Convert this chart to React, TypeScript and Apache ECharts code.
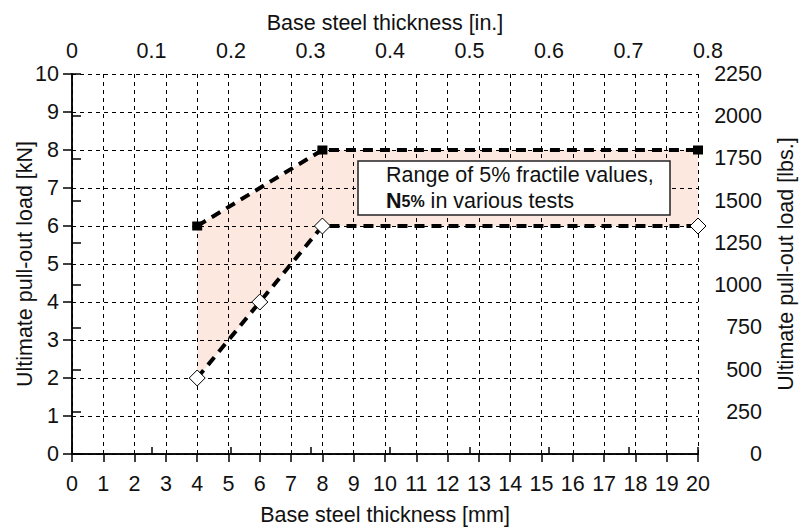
import React, { useEffect, useRef } from "react";
import * as echarts from "echarts";

// ---- data ----
const upperX = [4, 8, 20]; // mm
const upperY = [6, 8, 8]; // kN
const lowerX = [4, 6, 8, 20]; // mm
const lowerY = [2, 4, 6, 6]; // kN
const inchTicks = [0, 0.1, 0.2, 0.3, 0.4, 0.5, 0.6, 0.7];
const inchEnd = 20 / 25.4; // 20 mm in inches, labelled 0.8
const inchEndLabel = "0.8";
const noteLine1 = "Range of 5% fractile values,";
const noteLine2a = "N";
const noteLine2b = "5%";
const noteLine2c = " in various tests";

const FONT = "'Liberation Sans', Arial, Helvetica, sans-serif";
const FS = 21.5;
const INK = "#111";

export default function App() {
  const ref = useRef<HTMLDivElement>(null);
  useEffect(() => {
    document.body.style.margin = "0";
    const chart = echarts.init(ref.current!, null, { renderer: "svg" });
    const axisLine = { show: true, lineStyle: { color: "#000", width: 1.5 } };
    const tick = (len: number) => ({ show: true, inside: false, length: len, lineStyle: { color: "#000", width: 1.5 } });
    const lbl = { color: INK, fontSize: FS, fontFamily: FONT };
    const nameStyle = { color: INK, fontSize: FS, fontFamily: FONT };
    const upper = upperX.map((x, i) => [x, upperY[i]]);
    const lower = lowerX.map((x, i) => [x, lowerY[i]]);
    chart.setOption({
      animation: false,
      textStyle: { fontFamily: FONT },
      grid: { left: 72, right: 103, top: 74, bottom: 73, containLabel: false, outerBoundsMode: "none" },
      xAxis: [
        {
          type: "value",
          position: "bottom",
          min: 0,
          max: 20,
          interval: 1,
          axisLine,
          axisTick: tick(8),
          axisLabel: { ...lbl, margin: 19, formatter: (v: number) => String(v) },
          splitLine: { show: true, lineStyle: { color: "#000", width: 1, type: [4, 4] } },
          name: "Base steel thickness [mm]",
          nameLocation: "middle",
          nameGap: 50,
          nameMoveOverlap: false,
          nameTextStyle: nameStyle,
        },
        {
          type: "value",
          position: "top",
          min: 0,
          max: inchEnd,
          interval: 0.1,
          axisLine,
          axisTick: { ...tick(7), customValues: [...inchTicks, inchEnd] },
          axisLabel: {
            ...lbl,
            margin: 12,
            customValues: [...inchTicks, inchEnd],
            formatter: (v: number) =>
              v > 0.75 ? "{r|" + inchEndLabel + "}" : String(Math.round(v * 10) / 10),
            rich: { r: { fontSize: FS, fontFamily: FONT, color: INK, padding: [0, 0, 0, 20] } },
          },
          splitLine: { show: false },
          name: "Base steel thickness [in.]",
          nameLocation: "middle",
          nameGap: 40,
          nameMoveOverlap: false,
          nameTextStyle: nameStyle,
        },
      ],
      yAxis: [
        {
          type: "value",
          position: "left",
          min: 0,
          max: 10,
          interval: 1,
          axisLine,
          axisTick: tick(9),
          axisLabel: { ...lbl, margin: 13, formatter: (v: number) => String(v) },
          splitLine: { show: true, lineStyle: { color: "#000", width: 1, type: [4, 4] } },
          name: "Ultimate pull-out load [kN]",
          nameLocation: "middle",
          nameRotate: 90,
          nameGap: 36,
          nameMoveOverlap: false,
          nameTextStyle: nameStyle,
        },
        {
          type: "value",
          position: "right",
          min: 0,
          max: 2250,
          interval: 250,
          axisLine,
          axisTick: tick(9),
          axisLabel: { ...lbl, margin: 64, align: "right", formatter: (v: number) => String(v) },
          splitLine: { show: false },
          name: "Ultimate pull-out load [lbs.]",
          nameLocation: "middle",
          nameRotate: 90,
          nameGap: 77,
          nameMoveOverlap: false,
          nameTextStyle: nameStyle,
        },
      ],
      series: [
        {
          type: "custom",
          xAxisIndex: 0,
          yAxisIndex: 0,
          z: -1,
          silent: true,
          data: [[upperX[0], upperY[0]]],
          renderItem: (params: any, api: any) => {
            const pts: number[][] = [];
            for (let i = 0; i < upperX.length; i++) pts.push(api.coord([upperX[i], upperY[i]]));
            for (let i = lowerX.length - 1; i >= 0; i--) pts.push(api.coord([lowerX[i], lowerY[i]]));
            return { type: "polygon", shape: { points: pts }, style: { fill: "#fce8de", stroke: "none" } };
          },
        },
        {
          type: "line",
          xAxisIndex: 0,
          yAxisIndex: 0,
          data: upper,
          symbol: "rect",
          symbolSize: [10, 9],
          showSymbol: true,
          itemStyle: { color: "#000" },
          lineStyle: { color: "#000", width: 4, type: [10, 7], cap: "butt" },
          z: 3,
        },
        {
          type: "line",
          xAxisIndex: 0,
          yAxisIndex: 0,
          data: lower,
          symbol: "diamond",
          symbolSize: 16,
          showSymbol: true,
          itemStyle: { color: "#fff", borderColor: "#000", borderWidth: 1 },
          lineStyle: { color: "#000", width: 4, type: [10, 7], cap: "butt" },
          z: 4,
        },
      ],
      graphic: [
        {
          type: "rect",
          z: 100,
          shape: { x: 358, y: 161, width: 312, height: 54 },
          style: { fill: "#fff", stroke: "#222", lineWidth: 1.5 },
        },
        {
          type: "text",
          z: 101,
          x: 386,
          y: 188,
          style: {
            text:
              "{a|" + noteLine1 + "}\n{b|" + noteLine2a + "}{c|" + noteLine2b + "}{a|" + noteLine2c + "}",
            verticalAlign: "middle",
            align: "left",
            rich: {
              a: { fontSize: FS, fontFamily: FONT, fill: INK, lineHeight: 26 },
              b: { fontSize: FS, fontFamily: FONT, fill: INK, fontWeight: "bold", lineHeight: 26 },
              c: { fontSize: 16, fontFamily: FONT, fill: INK, fontWeight: "bold", lineHeight: 26 },
            },
          },
        },
      ],
    });
    return () => chart.dispose();
  }, []);
  return <div ref={ref} style={{ width: 801, height: 527 }} />;
}
